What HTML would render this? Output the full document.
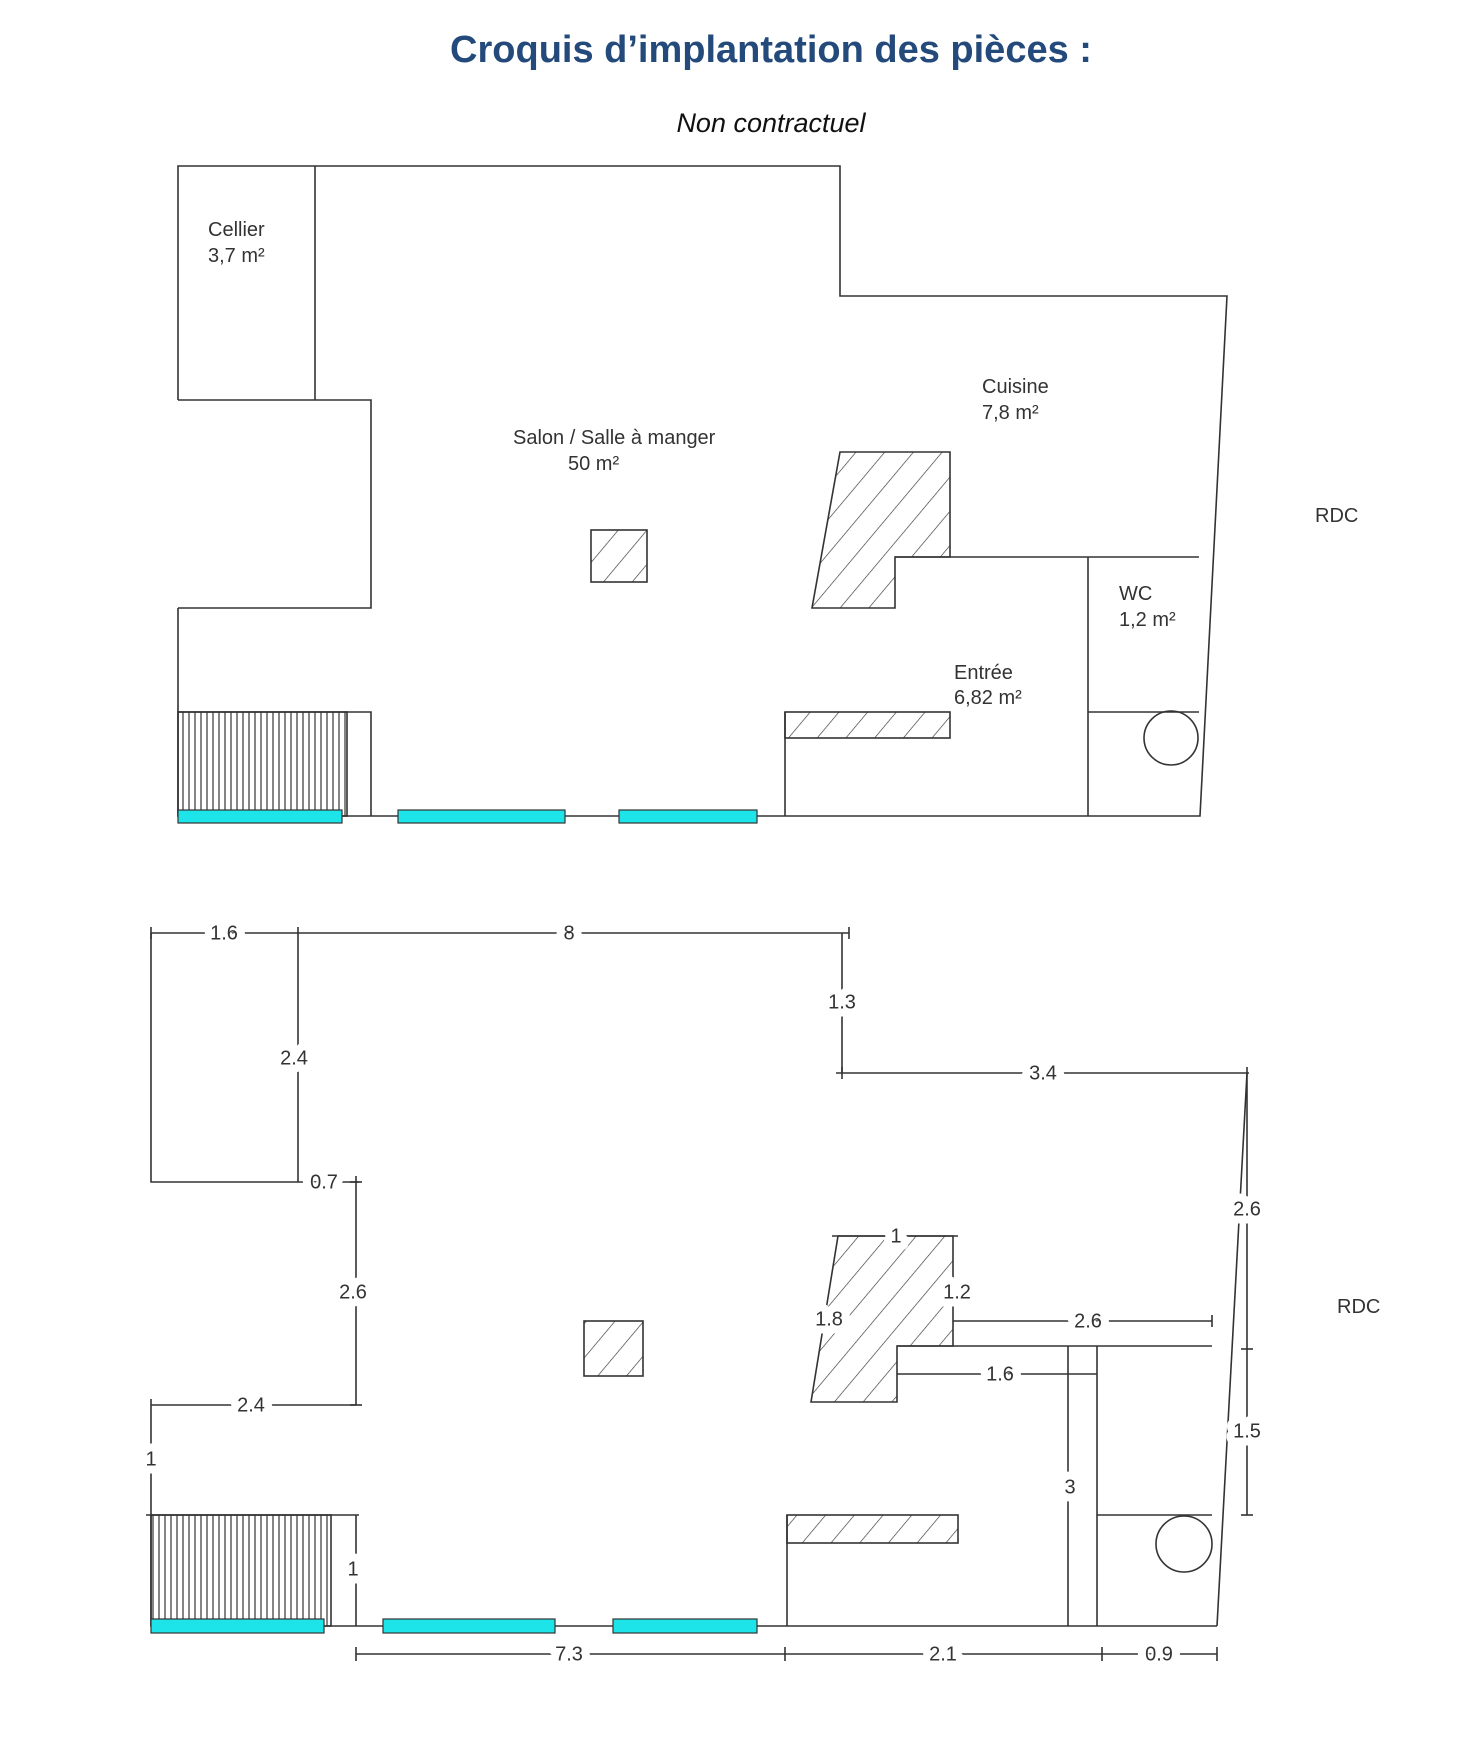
<!DOCTYPE html>
<html><head><meta charset="utf-8"><style>
html,body{margin:0;padding:0;background:#fff;}
svg{display:block;}
text{font-family:"Liberation Sans",sans-serif;}
.t{font-size:20px;fill:#333;}
.d{font-size:20px;fill:#333;text-anchor:middle;dominant-baseline:middle;paint-order:stroke;stroke:#fff;stroke-width:16px;stroke-linejoin:round;}
</style></head><body>
<svg width="1476" height="1754" viewBox="0 0 1476 1754" xmlns="http://www.w3.org/2000/svg">
<defs>
<pattern id="h" patternUnits="userSpaceOnUse" width="22" height="22" patternTransform="rotate(40)">
<line x1="0" y1="0" x2="0" y2="22" stroke="#333" stroke-width="1.3"/></pattern>
<pattern id="v" patternUnits="userSpaceOnUse" width="6" height="10">
<line x1="3" y1="0" x2="3" y2="10" stroke="#333" stroke-width="1.2"/></pattern>
</defs>
<text x="771" y="62" text-anchor="middle" font-size="38" font-weight="bold" fill="#234a7a">Croquis d’implantation des pièces :</text>
<text x="771" y="132" text-anchor="middle" font-size="27" font-style="italic" fill="#111">Non contractuel</text>

<g fill="none" stroke="#333" stroke-width="1.6">
<!-- top plan -->
<polyline points="178,400 178,166 840,166 840,296 1227,296 1200,816 178,816 178,608"/>
<line x1="315" y1="166" x2="315" y2="400"/>
<polyline points="178,400 371,400 371,608 178,608"/>
<polyline points="178,712 371,712 371,816"/>
<rect x="178" y="712" width="169" height="104" fill="url(#v)"/>
<polygon points="840,452 950,452 950,557 895,557 895,608 812,608" fill="url(#h)"/>
<line x1="895" y1="557" x2="1199" y2="557"/>
<line x1="1088" y1="557" x2="1088" y2="816"/>
<line x1="1088" y1="712" x2="1199" y2="712"/>
<circle cx="1171" cy="738" r="27"/>
<line x1="785" y1="712" x2="785" y2="816"/>
<rect x="785" y="712" width="165" height="26" fill="url(#h)"/>
<rect x="591" y="530" width="56" height="52" fill="url(#h)"/>
</g>
<g fill="#1de4e8" stroke="#333" stroke-width="1.2">
<rect x="178" y="810" width="164" height="13"/><rect x="398" y="810" width="167" height="13"/><rect x="619" y="810" width="138" height="13"/>
</g>
<text class="t" x="208" y="236">Cellier</text><text class="t" x="208" y="262">3,7  m²</text>
<text class="t" x="513" y="444">Salon / Salle à manger</text><text class="t" x="568" y="470">50  m²</text>
<text class="t" x="982" y="393">Cuisine</text><text class="t" x="982" y="419">7,8  m²</text>
<text class="t" x="1119" y="600">WC</text><text class="t" x="1119" y="626">1,2  m²</text>
<text class="t" x="954" y="679">Entrée</text><text class="t" x="954" y="704">6,82  m²</text>
<text class="t" x="1315" y="522">RDC</text>

<!-- bottom plan -->
<g fill="none" stroke="#333" stroke-width="1.6">
<line x1="151" y1="933" x2="849" y2="933"/>
<line x1="151" y1="927" x2="151" y2="939"/><line x1="849" y1="927" x2="849" y2="939"/>
<line x1="298" y1="927" x2="298" y2="1182"/>
<polyline points="151,933 151,1182 298,1182"/>
<line x1="298" y1="1182" x2="359" y2="1182"/>
<line x1="356" y1="1176" x2="356" y2="1405"/><line x1="350" y1="1182" x2="362" y2="1182"/>
<line x1="151" y1="1405" x2="356" y2="1405"/><line x1="350" y1="1405" x2="362" y2="1405"/>
<line x1="151" y1="1399" x2="151" y2="1626"/>
<line x1="146" y1="1515" x2="359" y2="1515"/>
<rect x="151" y="1515" width="180" height="111" fill="url(#v)"/>
<line x1="356" y1="1515" x2="356" y2="1626"/>
<line x1="151" y1="1626" x2="1217" y2="1626"/>
<line x1="842" y1="933" x2="842" y2="1073"/>
<line x1="836" y1="1073" x2="1249" y2="1073"/>
<line x1="842" y1="1067" x2="842" y2="1079"/>
<line x1="1247" y1="1073" x2="1217" y2="1626"/>
<line x1="1247" y1="1067" x2="1247" y2="1515"/>
<line x1="1241" y1="1349" x2="1253" y2="1349"/><line x1="1241" y1="1515" x2="1253" y2="1515"/>
<polygon points="838,1236 953,1236 953,1346 897,1346 897,1402 811,1402" fill="url(#h)"/>
<line x1="832" y1="1236" x2="958" y2="1236"/>
<line x1="953" y1="1321" x2="1212" y2="1321"/><line x1="1212" y1="1315" x2="1212" y2="1327"/>
<line x1="897" y1="1346" x2="1212" y2="1346"/>
<line x1="897" y1="1374" x2="1097" y2="1374"/>
<line x1="1068" y1="1346" x2="1068" y2="1626"/>
<line x1="1097" y1="1346" x2="1097" y2="1626"/>
<line x1="1097" y1="1515" x2="1212" y2="1515"/>
<circle cx="1184" cy="1544" r="28"/>
<line x1="787" y1="1515" x2="787" y2="1626"/>
<rect x="787" y="1515" width="171" height="28" fill="url(#h)"/>
<rect x="584" y="1321" width="59" height="55" fill="url(#h)"/>
<line x1="356" y1="1654" x2="1217" y2="1654"/>
<line x1="356" y1="1647" x2="356" y2="1661"/><line x1="785" y1="1647" x2="785" y2="1661"/>
<line x1="1102" y1="1647" x2="1102" y2="1661"/><line x1="1217" y1="1647" x2="1217" y2="1661"/>
</g>
<g fill="#1de4e8" stroke="#333" stroke-width="1.2">
<rect x="151" y="1619" width="173" height="14"/><rect x="383" y="1619" width="172" height="14"/><rect x="613" y="1619" width="144" height="14"/>
</g>
<g>
<text class="d" x="224" y="934">1.6</text>
<text class="d" x="569" y="934">8</text>
<text class="d" x="842" y="1003">1.3</text>
<text class="d" x="1043" y="1074">3.4</text>
<text class="d" x="294" y="1059">2.4</text>
<text class="d" x="324" y="1183">0.7</text>
<text class="d" x="353" y="1293">2.6</text>
<text class="d" x="251" y="1406">2.4</text>
<text class="d" x="151" y="1460">1</text>
<text class="d" x="353" y="1570">1</text>
<text class="d" x="1247" y="1210">2.6</text>
<text class="d" x="1247" y="1432">1.5</text>
<text class="d" x="896" y="1237">1</text>
<text class="d" x="957" y="1293">1.2</text>
<text class="d" x="829" y="1320">1.8</text>
<text class="d" x="1088" y="1322">2.6</text>
<text class="d" x="1000" y="1375">1.6</text>
<text class="d" x="1070" y="1488">3</text>
<text class="d" x="569" y="1655">7.3</text>
<text class="d" x="943" y="1655">2.1</text>
<text class="d" x="1159" y="1655">0.9</text>
</g>
<text class="t" x="1337" y="1313">RDC</text>
</svg>
</body></html>
